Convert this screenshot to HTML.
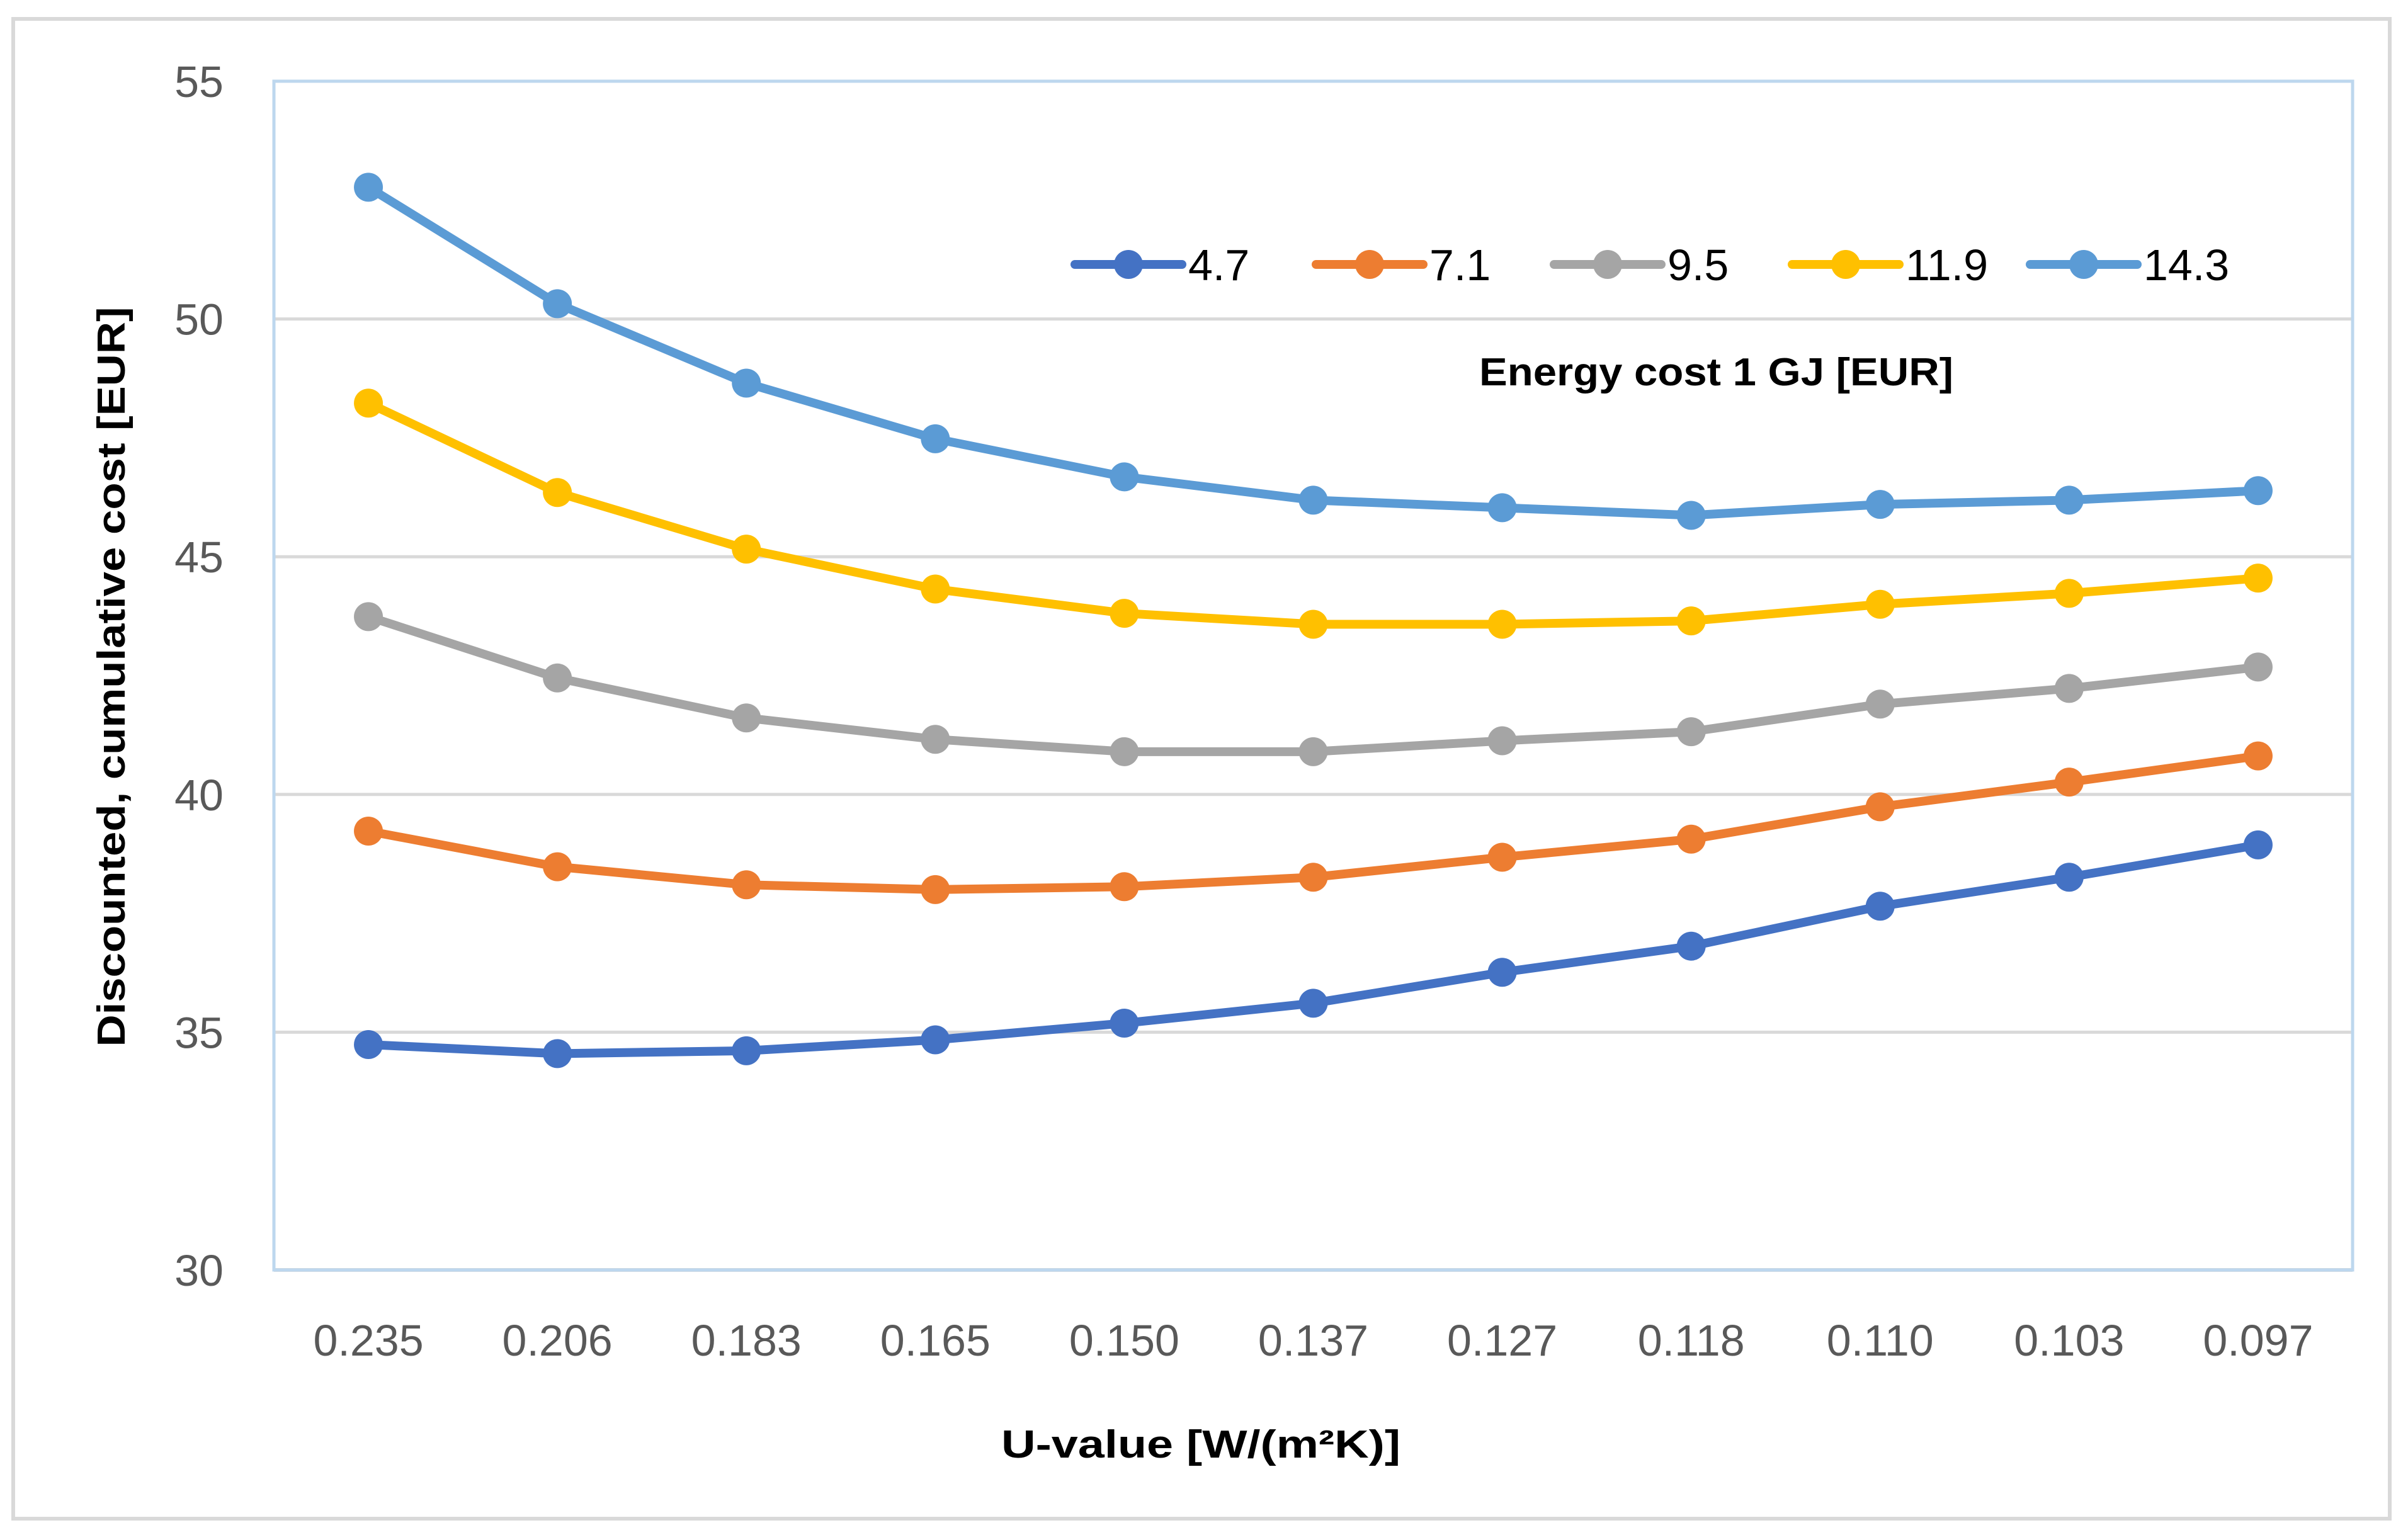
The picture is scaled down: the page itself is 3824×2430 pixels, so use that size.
<!DOCTYPE html>
<html><head><meta charset="utf-8"><style>
html,body{margin:0;padding:0;background:#fff}
svg{display:block}
text{font-family:"Liberation Sans",sans-serif}
</style></head><body>
<svg id="chart" width="3824" height="2430" viewBox="0 0 3824 2430" xmlns="http://www.w3.org/2000/svg">
<rect x="21" y="30" width="3774" height="2382" fill="#fff" stroke="#D9D9D9" stroke-width="6"/>
<g id="grid"></g>
<rect x="435" y="129" width="3301" height="1888" fill="none" stroke="#BDD7EE" stroke-width="5"/>
<g id="yticks"></g>
<g id="xticks"></g>
<g id="series"></g>
<g id="legend"></g>
<text x="2349" y="612" font-size="62" font-weight="bold" fill="#000" textLength="753" lengthAdjust="spacingAndGlyphs">Energy cost 1 GJ [EUR]</text>
<text transform="translate(198,1075) rotate(-90)" text-anchor="middle" font-size="62" font-weight="bold" fill="#000" textLength="1175" lengthAdjust="spacingAndGlyphs">Discounted, cumulative  cost [EUR]</text>
<text x="1907" y="2315" text-anchor="middle" font-size="62" font-weight="bold" fill="#000" textLength="634" lengthAdjust="spacingAndGlyphs">U-value [W/(m²K)]</text>
</svg>
<script>
const categories = ["0.235","0.206","0.183","0.165","0.150","0.137","0.127","0.118","0.110","0.103","0.097"];
const seriesNames = ["4.7","7.1","9.5","11.9","14.3"];
const s47 = [34.74,34.55,34.61,34.84,35.19,35.61,36.26,36.81,37.65,38.26,38.94];
const s71 = [39.23,38.48,38.10,38.00,38.06,38.26,38.68,39.06,39.74,40.26,40.81];
const s95 = [43.74,42.45,41.61,41.16,40.90,40.90,41.13,41.32,41.90,42.23,42.68];
const s119 = [48.23,46.35,45.16,44.32,43.81,43.58,43.58,43.65,44.00,44.23,44.55];
const s143 = [52.77,50.32,48.65,47.48,46.68,46.19,46.03,45.87,46.10,46.19,46.39];
const yTicks = [30,35,40,45,50,55];

const NS="http://www.w3.org/2000/svg";
const colors=["#4472C4","#ED7D31","#A5A5A5","#FFC000","#5B9BD5"];
const allSeries=[s47,s71,s95,s119,s143];
const L=435,R=3736,T=129,B=2017,yMin=30,yMax=55;
const band=(R-L)/categories.length;
function xs(i){return L+band*(i+0.5);}
function ys(v){return B-(v-yMin)/(yMax-yMin)*(B-T);}
function mk(tag,attrs,parent){const e=document.createElementNS(NS,tag);for(const k in attrs)e.setAttribute(k,attrs[k]);parent.appendChild(e);return e;}

const grid=document.getElementById('grid'),yt=document.getElementById('yticks'),xt=document.getElementById('xticks');
yTicks.forEach(v=>{
  if(v>yMin&&v<yMax){const g=mk('line',{x1:L,x2:R,y1:ys(v),y2:ys(v),stroke:'#D9D9D9','stroke-width':5},grid);
  
  }
  const t=mk('text',{x:355,y:ys(v)+25,'text-anchor':'end','font-size':70,fill:'#595959'},yt);
  t.textContent=v;
  
  
});
const base=mk('line',{x1:L,x2:R,y1:B,y2:B,stroke:'#D9D9D9',"stroke-width":6},grid);


categories.forEach((c,i)=>{
  const t=mk('text',{x:xs(i),y:2153,'text-anchor':'middle','font-size':70,fill:'#595959'},xt);
  t.textContent=c;
  
  
});
const sg=document.getElementById('series');
allSeries.forEach((s,k)=>{
  const g=mk('g',{},sg);
  
  
  const pts=s.map((v,i)=>xs(i)+','+ys(v)).join(' ');
  const pl=mk('polyline',{points:pts,fill:'none',stroke:colors[k],'stroke-width':14,'stroke-linejoin':'round'},g);
  
  
  s.forEach((v,i)=>{
    const c=mk('circle',{cx:xs(i),cy:ys(v),r:23,fill:colors[k]},g);
    
    
  });
});
const lg=document.getElementById('legend');
const legX=[1707,2090,2468,2846,3224];
seriesNames.forEach((n,k)=>{
  const g=mk('g',{},lg);
  
  
  const x0=legX[k];
  mk('line',{x1:x0,x2:x0+170,y1:420,y2:420,stroke:colors[k],'stroke-width':14,'stroke-linecap':'round'},g);
  mk('circle',{cx:x0+85,cy:420,r:23,fill:colors[k]},g);
  const t=mk('text',{x:x0+180,y:445,'font-size':70,fill:'#000'},g);
  t.textContent=n;
});
</script>
</body></html>
